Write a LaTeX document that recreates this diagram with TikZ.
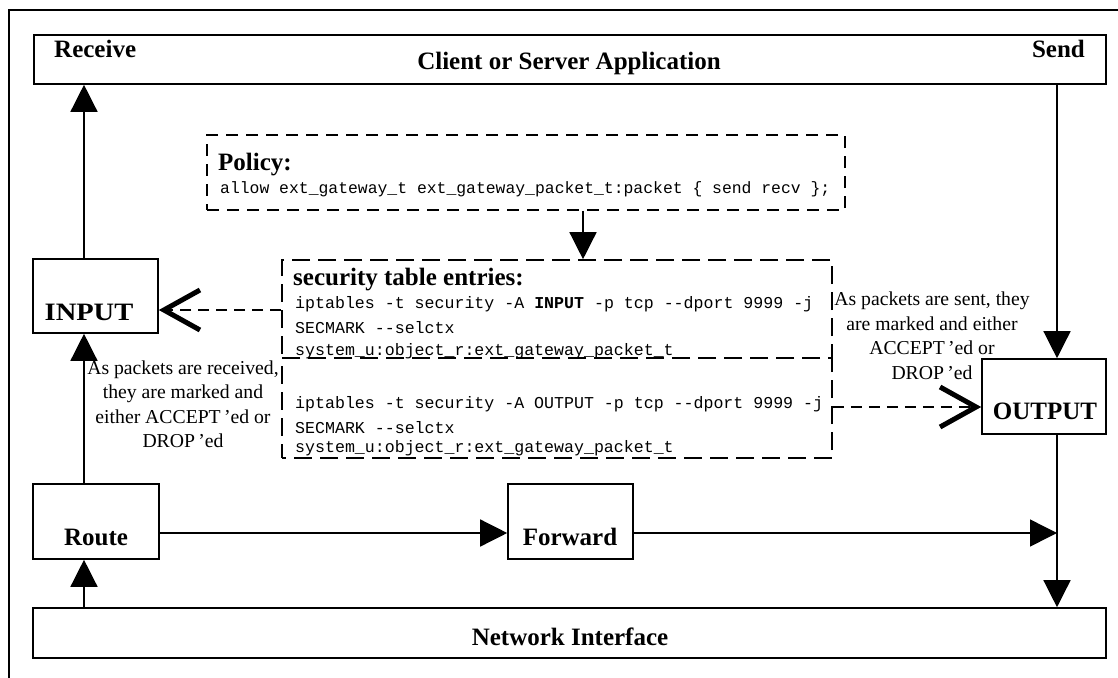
\documentclass[tikz,border=0pt]{standalone}
\usepackage{fontspec}
\setmainfont{Liberation Serif}
\setmonofont{Liberation Mono}
\usetikzlibrary{arrows.meta}
\begin{document}
\begin{tikzpicture}[x=1pt,y=-1pt,
  blk/.style={draw, line width=1.6pt, inner sep=0pt},
  lbl/.style={font=\fontsize{25}{30}\selectfont\bfseries, inner sep=0pt},
  code/.style={font=\fontsize{16.6}{20}\selectfont\ttfamily, inner sep=0pt, anchor=base west},
  note/.style={font=\fontsize{19.7}{24.5}\selectfont, align=center, inner sep=0pt},
  conn/.style={line width=1.4pt, -{Triangle[length=27pt,width=27pt]}},
  polbox/.style={draw, line width=1.6pt, dash pattern=on 12pt off 8pt, inner sep=0pt},
  secbox/.style={draw, line width=1.6pt, dash pattern=on 18pt off 8pt, inner sep=0pt},
  darr/.style={line width=1.6pt, dash pattern=on 11pt off 7pt,
    -{Straight Barb[length=36pt,width=40pt,line width=5pt 0]}}
]
\useasboundingbox (0,0) rectangle (1118,677);

% outer frame
\draw[line width=1.8pt] (9,690) -- (9,10) -- (1125,10);

% guide coordinates for the vertical and horizontal connector runs
\coordinate (lx) at (84,0);
\coordinate (rx) at (1057,0);
\coordinate (px) at (583,0);
\coordinate (ly) at (0,533);
\coordinate (iy) at (0,310);
\coordinate (oy) at (0,407);

% solid blocks
\node[blk, minimum width=1072pt, minimum height=49pt] (app) at (570,59.5) {};
\node[blk, minimum width=125pt, minimum height=74pt] (input) at (95.5,296) {};
\node[blk, minimum width=126pt, minimum height=75pt] (route) at (96,521.5) {};
\node[blk, minimum width=125pt, minimum height=75pt] (fwd) at (570.5,521.5) {};
\node[blk, minimum width=124pt, minimum height=75pt] (output) at (1044,396.5) {};
\node[blk, minimum width=1073pt, minimum height=50pt] (net) at (569.5,633) {};

% dashed policy and rule boxes (the lower rule box is phased so the shared edge stays dashed)
\node[polbox, minimum width=638pt, minimum height=75pt] (policy) at (526,172.5) {};
\node[secbox, minimum width=550pt, minimum height=98pt] (sec1) at (557,309) {};
\node[secbox, dash phase=14pt, minimum width=550pt, minimum height=100pt] (sec2) at (557,408) {};

% block labels
\node[lbl, anchor=base west] (recvl) at (54,58) {Receive};
\node[lbl, anchor=base east] (sendl) at (1085,58) {Send};
\node[lbl, anchor=base] (appl) at (569,70) {Client or Server Application};
\node[lbl, anchor=base] (inl) at (89,320) {\scalebox{1.14}[1]{INPUT}};
\node[lbl, anchor=base] (outl) at (1045,419) {OUTPUT};
\node[lbl, anchor=base] (rtl) at (96,545) {Route};
\node[lbl, anchor=base] (fwl) at (570,545) {Forward};
\node[lbl, anchor=base] (nil) at (570,645) {Network Interface};

% policy text
\node[lbl, anchor=base west] (poll) at (218,170) {Policy:};
\node[code, font=\fontsize{16.4}{20}\selectfont\ttfamily] (polc) at (220,193) {allow ext\_gateway\_t ext\_gateway\_packet\_t:packet \{ send recv \};};

% security table entries
\node[lbl, anchor=base west] (secl) at (293,285) {security table entries:};
\node[code] (c1) at (295,308) {iptables -t security -A \textbf{INPUT} -p tcp -{}-dport 9999 -j};
\node[code] (c2) at (295,333) {SECMARK -{}-selctx};
\node[code] (c3) at (295,355) {system\_u:object\_r:ext\_gateway\_packet\_t};
\node[code] (c4) at (295,408) {iptables -t security -A OUTPUT -p tcp -{}-dport 9999 -j};
\node[code] (c5) at (295,433) {SECMARK -{}-selctx};
\node[code] (c6) at (295,452) {system\_u:object\_r:ext\_gateway\_packet\_t};

% annotations
\node[note] (rnote) at (183,404.5) {As packets are received,\\they are marked and\\either ACCEPT\,’ed or\\DROP\,’ed};
\node[note] (snote) at (932,336) {As packets are sent, they\\are marked and either\\ACCEPT\,’ed or\\DROP\,’ed};

% packet flow
\draw[conn] (net.north -| lx) -- (route.south -| lx);
\draw[conn] (route.north -| lx) -- (input.south -| lx);
\draw[conn] (input.north -| lx) -- (app.south -| lx);
\draw[conn] (app.south -| rx) -- (output.north -| rx);
\draw[conn] (output.south -| rx) -- (net.north -| rx);
\draw[conn] (route.east |- ly) -- (fwd.west |- ly);
\draw[conn] (fwd.east |- ly) -- (rx |- ly);
\draw[conn] (policy.south -| px) -- (sec1.north -| px);

% rule application
\draw[darr] (sec1.west |- iy) -- (input.east |- iy);
\draw[darr] (sec2.east |- oy) -- (output.west |- oy);
\end{tikzpicture}
\end{document}
